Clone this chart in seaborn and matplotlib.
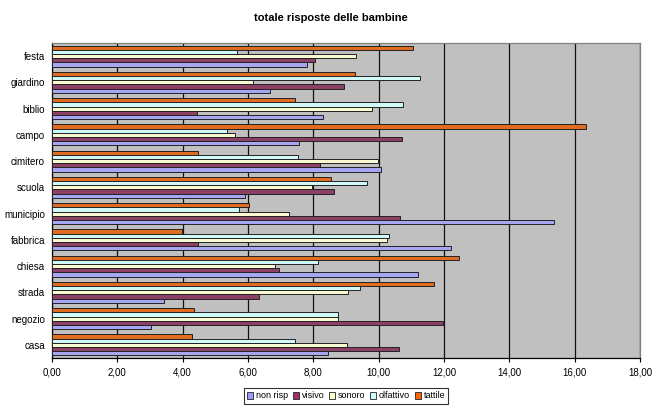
import matplotlib
matplotlib.use("Agg")
import matplotlib.pyplot as plt
from matplotlib.patches import Patch
from matplotlib.ticker import FuncFormatter, MultipleLocator, FixedLocator
import numpy as np
import pandas as pd
import seaborn as sns

# Places, listed top to bottom as drawn
luoghi = ["festa", "giardino", "biblio", "campo", "cimitero", "scuola",
          "municipio", "fabbrica", "chiesa", "strada", "negozio", "casa"]

non_risp  = [7.82, 6.68, 8.31, 7.57, 10.08, 5.91, 15.36, 12.20, 11.19, 3.42, 3.03, 8.45]
visivo    = [8.04, 8.93, 4.45, 10.71, 8.19, 8.63, 10.65, 4.48, 6.96, 6.34, 11.98, 10.61]
sonoro    = [9.32, 6.16, 9.80, 5.60, 9.99, 7.95, 7.27, 10.26, 6.83, 9.07, 8.77, 9.02]
olfattivo = [5.67, 11.26, 10.74, 5.36, 7.54, 9.63, 5.73, 10.31, 8.13, 9.43, 8.77, 7.44]
tattile   = [11.05, 9.29, 7.43, 16.36, 4.46, 8.55, 6.04, 3.99, 12.47, 11.70, 4.35, 4.28]

serie = ["non risp", "visivo", "sonoro", "olfattivo", "tattile"]
colori = {"non risp": "#9999FF", "visivo": "#993366", "sonoro": "#FFFFCC",
          "olfattivo": "#CCFFFF", "tattile": "#FF6600"}

valori = {"non risp": non_risp, "visivo": visivo, "sonoro": sonoro,
          "olfattivo": olfattivo, "tattile": tattile}
df = pd.DataFrame([
    {"luogo": l, "risposta": s, "valore": valori[s][i]}
    for s in serie for i, l in enumerate(luoghi)
])

sns.set_theme(style="white")
plt.rcParams["font.family"] = ["Liberation Sans", "DejaVu Sans"]
plt.rcParams["text.color"] = "black"
plt.rcParams["xtick.color"] = "black"
plt.rcParams["ytick.color"] = "black"

fig = plt.figure(figsize=(6.62, 4.07), dpi=100)
ax = fig.add_axes([52 / 662, 1 - 358 / 407, (640 - 52) / 662, (358 - 43) / 407])
ax.set_facecolor("#C0C0C0")

# within each group the tattile bar sits on top, non risp at the bottom
ordine = serie[::-1]
sns.barplot(data=df, y="luogo", x="valore", hue="risposta", order=luoghi,
            hue_order=ordine, palette=colori, orient="h", width=0.8,
            edgecolor="#222222", linewidth=0.7, ax=ax, legend=False, zorder=3)

ax.set_xlim(0, 18)
ax.set_ylim(len(luoghi) - 0.5, -0.5)
ax.xaxis.set_major_locator(MultipleLocator(2))
ax.xaxis.set_major_formatter(FuncFormatter(lambda v, p: f"{v:.2f}".replace(".", ",")))
ax.grid(axis="x", color="#111111", linewidth=0.9, zorder=1)
ax.set_axisbelow(True)
ax.set_xlabel("")
ax.set_ylabel("")

# category labels between group tick marks
ax.set_yticks(np.arange(len(luoghi)))
ax.set_yticklabels(luoghi)
ax.yaxis.set_minor_locator(FixedLocator(np.arange(-0.5, len(luoghi), 1)))
ax.tick_params(axis="y", which="major", length=0, labelsize=7, pad=5)
ax.tick_params(axis="y", which="minor", length=3, width=0.8, color="black", direction="out")
ax.tick_params(axis="x", which="major", length=3, width=0.8, color="black",
               direction="out", labelsize=7, pad=4, bottom=True)

for side in ("left", "bottom"):
    ax.spines[side].set_color("black")
    ax.spines[side].set_linewidth(0.9)
for side in ("top", "right"):
    ax.spines[side].set_color("#808080")
    ax.spines[side].set_linewidth(0.9)

fig.text(0.5, 1 - 18 / 407, "totale risposte delle bambine", ha="center", va="center",
         fontsize=8, fontweight="bold", color="black")

handles = [Patch(facecolor=colori[s], edgecolor="#222222", linewidth=0.6, label=s) for s in serie]
leg = fig.legend(handles=handles, loc="center", bbox_to_anchor=(346 / 662, 1 - 396 / 407),
                 ncol=5, frameon=True, fontsize=6.5, handlelength=0.7, handleheight=0.7,
                 handletextpad=0.3, columnspacing=0.5, borderpad=0.35, fancybox=False)
leg.get_frame().set_edgecolor("black")
leg.get_frame().set_linewidth(0.8)

fig.savefig("out.png", dpi=100, facecolor="white")
